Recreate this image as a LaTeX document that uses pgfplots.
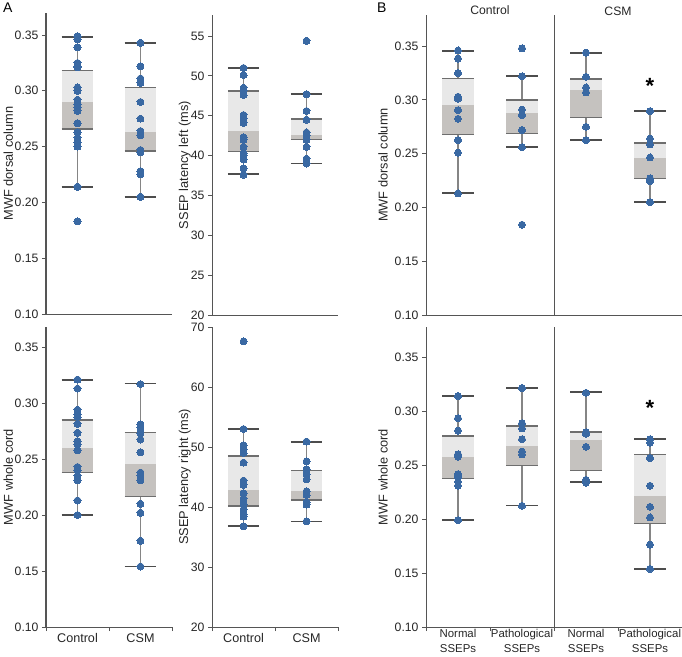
\documentclass[border=0pt]{standalone}
\usepackage{fontspec}
\setmainfont{Liberation Sans}
\usepackage{pgfplots}
\pgfplotsset{compat=1.18}

\definecolor{dotc}{HTML}{3A69A3}
\definecolor{boxhi}{RGB}{224,224,224}
\definecolor{boxlo}{RGB}{178,174,170}
\definecolor{axc}{HTML}{555555}
\definecolor{capc}{HTML}{4D4D4D}
\definecolor{whc}{HTML}{858585}
\definecolor{edgec}{HTML}{6E6E6E}

% args: xleft, x, xright, whisker low, q1, median, q3, whisker high
\newcommand{\whisk}[8]{%
  \addplot[whc, line width=1.2pt] coordinates {(#2,#4) (#2,#5)};
  \addplot[whc, line width=1.2pt] coordinates {(#2,#7) (#2,#8)};
  \addplot[capc, line width=1.8pt] coordinates {(#1,#4) (#3,#4)};
  \addplot[capc, line width=1.8pt] coordinates {(#1,#8) (#3,#8)};
}
\newcommand{\boxes}[8]{%
  \addplot[draw=none, fill=boxlo, fill opacity=0.75] coordinates {(#1,#5) (#3,#5) (#3,#6) (#1,#6)} -- cycle;
  \addplot[draw=none, fill=boxhi, fill opacity=0.75] coordinates {(#1,#6) (#3,#6) (#3,#7) (#1,#7)} -- cycle;
  \addplot[edgec, line width=1.4pt] coordinates {(#1,#5) (#3,#5)};
  \addplot[edgec, line width=1.4pt] coordinates {(#1,#7) (#3,#7)};
}

\pgfplotsset{
  panel/.style={
    scale only axis, clip=false,
    axis lines*=left,
    axis line style={axc, line width=1pt},
    tick align=outside,
    major tick length=4pt,
    tick style={axc, line width=0.9pt},
    yticklabel style={font=\fontsize{12.2}{14}\selectfont, text=black!85},
    xticklabel style={font=\fontsize{12.6}{16.5}\selectfont, text=black!85, align=center, yshift=-3pt},
    ylabel style={font=\fontsize{12.8}{14}\selectfont, text=black!85, anchor=center},
    /pgf/number format/assume math mode=true,
    xmin=-0.5,
  },
  mwf/.style={ymin=0.10, ytick={0.10,0.15,0.20,0.25,0.30,0.35},
    yticklabel style={/pgf/number format/.cd, fixed, fixed zerofill, precision=2}},
  dots/.style={dotc, only marks, mark=*, mark size=3.5pt, mark options={draw=dotc, fill=dotc, line width=0pt}},
  twocat/.style={xmax=1.5, xtick={-0.5,0.5,1.5}, xticklabels={,,},
    extra x ticks={0,1}, extra x tick labels={Control,CSM},
    extra x tick style={major tick length=0pt}},
}

\begin{document}
\begin{tikzpicture}
\useasboundingbox (0,0) rectangle (682pt,-656pt);

% A, MWF dorsal column
\begin{axis}[panel, mwf, at={(46pt,-314pt)}, anchor=south west,
  width=126pt, height=301pt, xmax=1.5, ymax=0.3697, xtick=\empty,
  ylabel={MWF dorsal column},
  ylabel style={at={(axis description cs:-0.30,0.5)}}]
\whisk{-0.25}{0}{0.25}{0.214}{0.2657}{0.290}{0.318}{0.348}
\whisk{0.75}{1}{1.25}{0.205}{0.246}{0.263}{0.303}{0.343}
\addplot[dots] coordinates {(0,0.349)(0,0.346)(0,0.339)(0,0.325)(0,0.322)(0,0.321)(0,0.303)(0,0.300)(0,0.292)(0,0.288)(0,0.285)(0,0.282)(0,0.271)(0,0.263)(0,0.258)(0,0.254)(0,0.250)(0,0.214)(0,0.183)};
\addplot[dots] coordinates {(1,0.343)(1,0.322)(1,0.311)(1,0.307)(1,0.290)(1,0.275)(1,0.264)(1,0.260)(1,0.247)(1,0.245)(1,0.228)(1,0.225)(1,0.205)};
\boxes{-0.25}{0}{0.25}{0.214}{0.2657}{0.290}{0.318}{0.348}
\boxes{0.75}{1}{1.25}{0.205}{0.246}{0.263}{0.303}{0.343}
\end{axis}

% A, SSEP latency left
\begin{axis}[panel, at={(212pt,-315pt)}, anchor=south west,
  width=126pt, height=300pt, xmax=1.5, ymin=20, ymax=57.64, xtick=\empty,
  ytick={20,25,30,35,40,45,50,55},
  ylabel={SSEP latency left (ms)},
  ylabel style={at={(axis description cs:-0.215,0.5)}}]
\whisk{-0.25}{0}{0.25}{37.7}{40.5}{43.1}{48.1}{51.0}
\whisk{0.75}{1}{1.25}{39.0}{42.0}{42.6}{44.6}{47.7}
\addplot[dots] coordinates {(0,51.0)(0,50.1)(0,48.5)(0,48.2)(0,47.6)(0,45.1)(0,44.6)(0,44.1)(0,42.3)(0,42.0)(0,41.1)(0,40.3)(0,40.0)(0,39.5)(0,38.4)(0,37.6)};
\addplot[dots] coordinates {(1,54.4)(1,47.7)(1,45.6)(1,44.5)(1,42.9)(1,42.5)(1,42.0)(1,41.1)(1,39.6)(1,39.0)};
\boxes{-0.25}{0}{0.25}{37.7}{40.5}{43.1}{48.1}{51.0}
\boxes{0.75}{1}{1.25}{39.0}{42.0}{42.6}{44.6}{47.7}
\end{axis}

% A, MWF whole cord
\begin{axis}[panel, mwf, twocat, at={(46pt,-627pt)}, anchor=south west,
  width=126pt, height=300pt, ymax=0.368,
  ylabel={MWF whole cord},
  ylabel style={at={(axis description cs:-0.30,0.5)}}]
\whisk{-0.25}{0}{0.25}{0.200}{0.238}{0.260}{0.285}{0.321}
\whisk{0.75}{1}{1.25}{0.154}{0.2167}{0.246}{0.2735}{0.3176}
\addplot[dots] coordinates {(0,0.321)(0,0.313)(0,0.294)(0,0.290)(0,0.2875)(0,0.2815)(0,0.2735)(0,0.266)(0,0.263)(0,0.258)(0,0.243)(0,0.240)(0,0.235)(0,0.231)(0,0.213)(0,0.200)};
\addplot[dots] coordinates {(1,0.317)(1,0.281)(1,0.278)(1,0.273)(1,0.2675)(1,0.256)(1,0.238)(1,0.235)(1,0.231)(1,0.210)(1,0.202)(1,0.177)(1,0.154)};
\boxes{-0.25}{0}{0.25}{0.200}{0.238}{0.260}{0.285}{0.321}
\boxes{0.75}{1}{1.25}{0.154}{0.2167}{0.246}{0.2735}{0.3176}
\end{axis}

% A, SSEP latency right
\begin{axis}[panel, twocat, at={(212pt,-627pt)}, anchor=south west,
  width=126pt, height=300pt, ymin=20, ymax=70,
  ytick={20,30,40,50,60,70},
  ylabel={SSEP latency right (ms)},
  ylabel style={at={(axis description cs:-0.215,0.5)}}]
\whisk{-0.25}{0}{0.25}{36.9}{40.2}{42.9}{48.5}{53.0}
\whisk{0.75}{1}{1.25}{37.6}{41.2}{42.7}{46.1}{50.9}
\addplot[dots] coordinates {(0,67.6)(0,53.0)(0,50.3)(0,49.6)(0,49.0)(0,47.4)(0,44.4)(0,43.7)(0,42.3)(0,41.4)(0,40.5)(0,39.6)(0,38.8)(0,38.4)(0,36.8)};
\addplot[dots] coordinates {(1,50.9)(1,47.6)(1,46.3)(1,45.5)(1,44.6)(1,42.6)(1,42.0)(1,40.8)(1,40.4)(1,37.6)};
\boxes{-0.25}{0}{0.25}{36.9}{40.2}{42.9}{48.5}{53.0}
\boxes{0.75}{1}{1.25}{37.6}{41.2}{42.7}{46.1}{50.9}
\end{axis}

% B, MWF dorsal column by SSEP
\begin{axis}[panel, mwf, at={(426pt,-315pt)}, anchor=south west,
  width=256pt, height=300pt, xmax=3.5, ymax=0.379, xtick=\empty,
  ylabel={MWF dorsal column},
  ylabel style={at={(axis description cs:-0.168,0.5)}}]
\addplot[axc, line width=1pt] coordinates {(1.5,0.10) (1.5,0.379)};
\whisk{-0.25}{0}{0.25}{0.2137}{0.268}{0.295}{0.320}{0.3457}
\whisk{0.75}{1}{1.25}{0.2564}{0.269}{0.288}{0.300}{0.3224}
\whisk{1.75}{2}{2.25}{0.2626}{0.2837}{0.309}{0.3196}{0.344}
\whisk{2.75}{3}{3.25}{0.2053}{0.227}{0.2456}{0.260}{0.290}
\addplot[dots] coordinates {(0,0.346)(0,0.3385)(0,0.325)(0,0.303)(0,0.301)(0,0.2905)(0,0.2825)(0,0.2626)(0,0.251)(0,0.213)};
\addplot[dots] coordinates {(1,0.348)(1,0.322)(1,0.291)(1,0.286)(1,0.272)(1,0.256)(1,0.184)};
\addplot[dots] coordinates {(2,0.344)(2,0.3215)(2,0.3116)(2,0.307)(2,0.275)(2,0.2626)};
\addplot[dots] coordinates {(3,0.2896)(3,0.264)(3,0.2586)(3,0.2465)(3,0.227)(3,0.2245)(3,0.205)};
\boxes{-0.25}{0}{0.25}{0.2137}{0.268}{0.295}{0.320}{0.3457}
\boxes{0.75}{1}{1.25}{0.2564}{0.269}{0.288}{0.300}{0.3224}
\boxes{1.75}{2}{2.25}{0.2626}{0.2837}{0.309}{0.3196}{0.344}
\boxes{2.75}{3}{3.25}{0.2053}{0.227}{0.2456}{0.260}{0.290}
\node[font=\fontsize{12.2}{14}\selectfont, text=black!85, yshift=4.5pt] at (axis cs:0.5,0.379) {Control};
\node[font=\fontsize{12.2}{14}\selectfont, text=black!85, yshift=3.5pt] at (axis cs:2.5,0.379) {CSM};
\node[anchor=north, inner sep=0pt, font=\bfseries\fontsize{22}{22}\selectfont] at (axis cs:3,0.3205) {*};
\end{axis}

% B, MWF whole cord by SSEP
\begin{axis}[panel, mwf, at={(426pt,-627pt)}, anchor=south west,
  width=256pt, height=300pt, xmax=3.5, ymax=0.378,
  xtick={-0.5,0.5,1.5,2.5,3.5}, xticklabels={,,,,},
  extra x ticks={0,1,2,3},
  extra x tick labels={{Normal\\SSEPs},{Pathological\\SSEPs},{Normal\\SSEPs},{Pathological\\SSEPs}},
  extra x tick style={major tick length=0pt},
  xticklabel style={font=\fontsize{11.4}{14.5}\selectfont, yshift=4pt},
  ylabel={MWF whole cord},
  ylabel style={at={(axis description cs:-0.168,0.5)}}]
\addplot[axc, line width=1pt] coordinates {(1.5,0.10) (1.5,0.378)};
\whisk{-0.25}{0}{0.25}{0.199}{0.2377}{0.2575}{0.277}{0.314}
\whisk{0.75}{1}{1.25}{0.2126}{0.2494}{0.268}{0.2863}{0.3218}
\whisk{1.75}{2}{2.25}{0.2346}{0.245}{0.2733}{0.2807}{0.3178}
\whisk{2.75}{3}{3.25}{0.1538}{0.196}{0.2213}{0.260}{0.2745}
\addplot[dots] coordinates {(0,0.314)(0,0.2934)(0,0.282)(0,0.260)(0,0.2578)(0,0.2417)(0,0.239)(0,0.2346)(0,0.231)(0,0.199)};
\addplot[dots] coordinates {(1,0.3215)(1,0.2887)(1,0.284)(1,0.274)(1,0.2625)(1,0.260)(1,0.2123)};
\addplot[dots] coordinates {(2,0.317)(2,0.2804)(2,0.279)(2,0.267)(2,0.2364)(2,0.2337)};
\addplot[dots] coordinates {(3,0.274)(3,0.2708)(3,0.2566)(3,0.2309)(3,0.2114)(3,0.2015)(3,0.1764)(3,0.1538)};
\boxes{-0.25}{0}{0.25}{0.199}{0.2377}{0.2575}{0.277}{0.314}
\boxes{0.75}{1}{1.25}{0.2126}{0.2494}{0.268}{0.2863}{0.3218}
\boxes{1.75}{2}{2.25}{0.2346}{0.245}{0.2733}{0.2807}{0.3178}
\boxes{2.75}{3}{3.25}{0.1538}{0.196}{0.2213}{0.260}{0.2745}
\node[anchor=north, inner sep=0pt, font=\bfseries\fontsize{22}{22}\selectfont] at (axis cs:3,0.310) {*};
\end{axis}

\node[anchor=north west, inner sep=0pt, font=\fontsize{14}{14}\selectfont] at (3pt,-3pt) {A};
\node[anchor=north west, inner sep=0pt, font=\fontsize{14}{14}\selectfont] at (377pt,-3pt) {B};
\end{tikzpicture}
\end{document}
